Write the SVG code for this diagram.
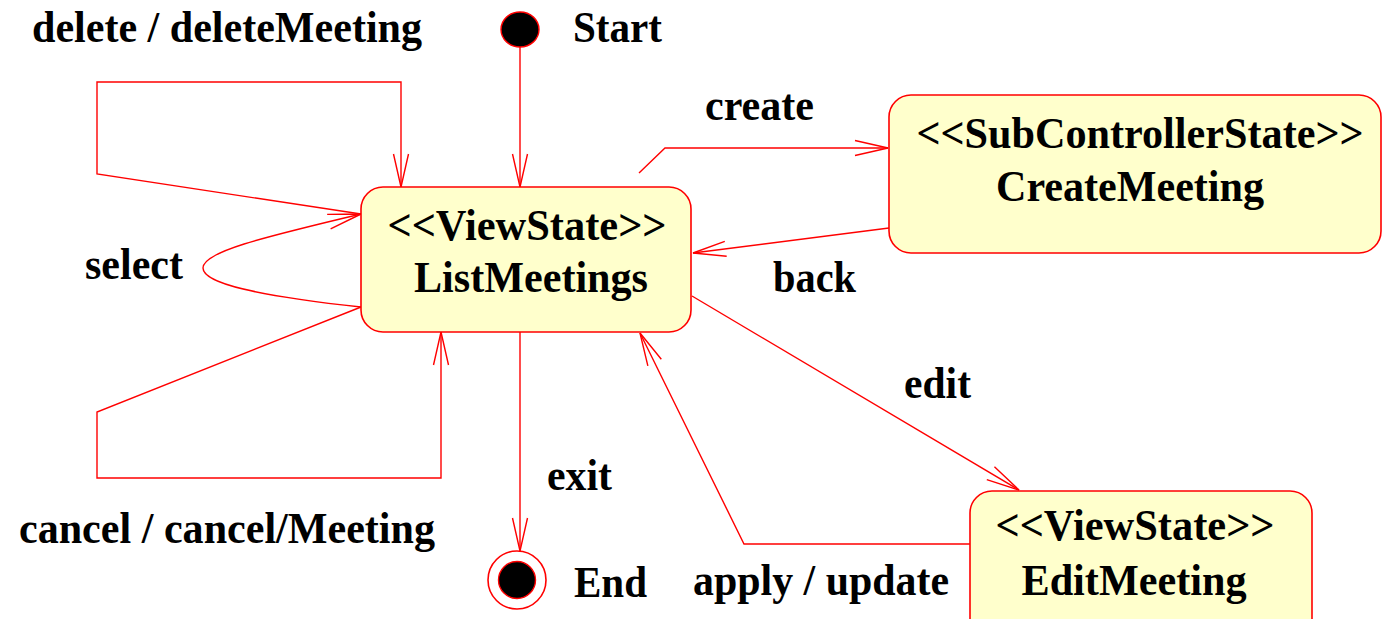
<svg xmlns="http://www.w3.org/2000/svg" width="1382" height="619" viewBox="0 0 1382 619">
<style>
.state{fill:#ffffcc;stroke:#ff0000;stroke-width:1.6}
.conn{fill:none;stroke:#ff0000;stroke-width:1.4}
.t{font-family:"Liberation Serif","Times New Roman",serif;font-weight:bold;font-size:44px;fill:#000}
.c{text-anchor:middle}
</style>
<defs>
<marker id="arr" markerUnits="userSpaceOnUse" markerWidth="40" markerHeight="24" viewBox="-2 -12 40 24" refX="33" refY="0" orient="auto">
<path d="M0,-7.5 L33,0 L0,7.5" fill="none" stroke="#ff0000" stroke-width="1.4"/>
</marker>
</defs>
<rect width="1382" height="619" fill="#ffffff"/>
<g id="connectors">
<path class="conn" d="M520,47 L520,187" marker-end="url(#arr)"/>
<path class="conn" d="M361,214 L97,174 L97,82 L401,82 L401,187" marker-end="url(#arr)"/>
<path class="conn" d="M361,307 C260,296 203,284 203,268 C203,252 260,238 361,214" marker-end="url(#arr)"/>
<path class="conn" d="M361,307 L97,412 L97,478 L441,478 L441,332" marker-end="url(#arr)"/>
<path class="conn" d="M520,332 L520,551" marker-end="url(#arr)"/>
<path class="conn" d="M639,173 L665,148 L888,148" marker-end="url(#arr)"/>
<path class="conn" d="M889,228 L693,253" marker-end="url(#arr)"/>
<path class="conn" d="M692,296 L1019,490" marker-end="url(#arr)"/>
<path class="conn" d="M970,544 L744,544 L640,333" marker-end="url(#arr)"/>
</g>
<g id="start">
<ellipse cx="520" cy="29.5" rx="19" ry="17.5" fill="#000" stroke="#ff0000" stroke-width="1.4"/>
<text class="t" x="573" y="42" textLength="89" lengthAdjust="spacingAndGlyphs">Start</text>
</g>
<g id="end">
<circle cx="517" cy="580" r="29" fill="none" stroke="#ff0000" stroke-width="1.6"/>
<circle cx="517" cy="580" r="18.5" fill="#000" stroke="#ff0000" stroke-width="1.4"/>
<text class="t" x="574" y="597" textLength="73" lengthAdjust="spacingAndGlyphs">End</text>
</g>
<g id="ListMeetings">
<rect class="state" x="361" y="187" width="330" height="145" rx="22" ry="22"/>
<text class="t c" x="527" y="240" textLength="279" lengthAdjust="spacingAndGlyphs">&lt;&lt;ViewState&gt;&gt;</text>
<text class="t c" x="531" y="292" textLength="234" lengthAdjust="spacingAndGlyphs">ListMeetings</text>
</g>
<g id="CreateMeeting">
<rect class="state" x="889" y="95" width="492" height="158" rx="22" ry="22"/>
<text class="t c" x="1140" y="148" textLength="447" lengthAdjust="spacingAndGlyphs">&lt;&lt;SubControllerState&gt;&gt;</text>
<text class="t c" x="1130" y="201" textLength="268" lengthAdjust="spacingAndGlyphs">CreateMeeting</text>
</g>
<g id="EditMeeting">
<rect class="state" x="970" y="491" width="342" height="160" rx="22" ry="22"/>
<text class="t c" x="1135" y="540" textLength="279" lengthAdjust="spacingAndGlyphs">&lt;&lt;ViewState&gt;&gt;</text>
<text class="t c" x="1134" y="595" textLength="225" lengthAdjust="spacingAndGlyphs">EditMeeting</text>
</g>
<g id="labels">
<text class="t" x="32" y="42" textLength="390" lengthAdjust="spacingAndGlyphs">delete / deleteMeeting</text>
<text class="t" x="85" y="279" textLength="98" lengthAdjust="spacingAndGlyphs">select</text>
<text class="t" x="19" y="543" textLength="416" lengthAdjust="spacingAndGlyphs">cancel / cancel/Meeting</text>
<text class="t" x="547" y="490" textLength="65" lengthAdjust="spacingAndGlyphs">exit</text>
<text class="t" x="705" y="120" textLength="109" lengthAdjust="spacingAndGlyphs">create</text>
<text class="t" x="773" y="292" textLength="83" lengthAdjust="spacingAndGlyphs">back</text>
<text class="t" x="904" y="398" textLength="67" lengthAdjust="spacingAndGlyphs">edit</text>
<text class="t" x="693" y="595" textLength="256" lengthAdjust="spacingAndGlyphs">apply / update</text>
</g>
</svg>
